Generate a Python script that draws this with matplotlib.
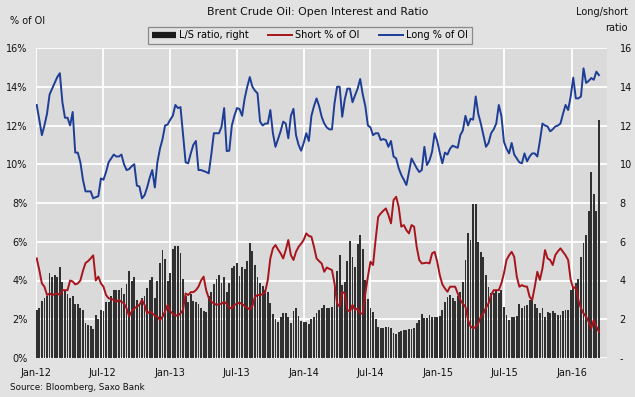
import numpy as np
import pandas as pd
import matplotlib
matplotlib.use("Agg")
import matplotlib.pyplot as plt
import matplotlib.dates as mdates
from matplotlib.lines import Line2D
from matplotlib.ticker import FixedLocator, FixedFormatter

# ---------------- data (weekly, starting 3 Jan 2012) ----------------
start_date = "2012-01-03"

ls_ratio = [
    2.5, 2.6, 2.95, 3.1, 3.2, 4.4, 4.2, 4.3, 4.2, 4.7,
    3.9, 3.5, 3.3, 3.1, 3.2, 2.8, 2.8, 2.6, 2.5, 1.8,
    1.7, 1.65, 1.5, 2.2, 2.0, 2.5, 2.45, 2.9, 2.9, 3.2,
    3.5, 3.5, 3.5, 3.6, 3.3, 3.8, 4.5, 4.0, 4.2, 3.0,
    2.8, 3.1, 3.2, 3.6, 4.05, 4.2, 3.1, 4.0, 4.9, 5.6,
    5.1, 4.0, 4.4, 5.65, 5.8, 5.8, 5.4, 4.1, 3.2, 2.9,
    3.3, 2.95, 2.9, 2.8, 2.6, 2.45, 2.4, 3.2, 3.4, 3.8,
    4.1, 4.3, 3.85, 4.2,
    3.4, 3.85, 4.67, 4.74, 4.88, 4.23, 4.7, 4.57, 5.02, 5.95,
    5.54, 4.8, 4.2, 3.85, 3.71, 3.5, 3.4, 2.82, 2.27, 2.0,
    1.88, 2.1, 2.34, 2.34, 2.1, 1.82, 2.44, 2.56, 2.16, 1.91,
    1.88, 1.88, 1.76, 2.0, 2.13, 2.34, 2.5, 2.56, 2.74, 2.6,
    2.56, 2.65, 3.68, 4.5, 5.3, 3.76, 3.94, 5.02, 6.05, 5.22,
    4.7, 5.9, 6.34, 5.65, 4.03, 3.02, 2.56, 2.4, 2.0, 1.62,
    1.53, 1.53, 1.58, 1.62, 1.53, 1.27, 1.24, 1.36, 1.41, 1.45,
    1.45, 1.48, 1.48, 1.53, 1.82, 1.96,
    2.27, 2.05, 2.05, 2.22, 2.13, 2.1, 2.13, 2.16, 2.48, 2.9,
    3.16, 3.25, 3.08, 2.96, 3.2, 3.42, 3.94, 5.06, 6.43, 6.09,
    7.94, 7.94, 6.0, 5.48, 5.2, 4.28, 3.68, 3.37, 3.33, 3.5,
    3.33, 3.5, 2.65, 2.22, 1.96, 2.13, 2.13, 2.16, 2.79, 2.6,
    2.67, 2.74, 2.99, 3.08, 2.79, 2.6, 2.3, 2.6, 2.1, 2.4,
    2.34, 2.44, 2.3, 2.2, 2.2, 2.44, 2.5, 2.5, 3.5, 3.68,
    3.85, 4.1, 5.2, 5.95, 6.34, 7.6, 9.6, 8.45, 7.6, 12.3,
]

short_pct = [
    5.14, 4.54, 3.85, 3.68, 3.25, 3.33, 3.25, 3.3, 3.33, 3.25,
    3.5, 3.5, 3.5, 4.0, 3.95, 3.8, 3.85, 4.0, 4.5, 4.9,
    5.0, 5.14, 5.3, 4.0, 4.2, 3.85, 3.68, 3.25, 3.08, 3.05,
    3.0, 2.9, 3.0, 2.9, 2.82, 2.56, 2.16, 2.4, 2.56, 2.65,
    2.74, 3.0, 2.74, 2.3, 2.4, 2.3, 2.2, 2.13, 1.96, 2.13,
    2.4, 2.74, 2.4, 2.3, 2.2, 2.2, 2.3, 2.48, 3.33, 3.25,
    3.4, 3.4, 3.5, 3.68, 4.0, 4.2, 3.5, 3.1, 2.9, 2.82,
    2.74, 2.78, 2.8, 2.9, 2.8, 2.6, 2.56, 2.74, 2.8, 2.85,
    2.79, 2.68, 2.6, 2.5, 2.68, 3.16, 3.25, 3.25, 3.3, 3.42,
    4.03, 5.14, 5.66, 5.83, 5.6, 5.4, 5.14, 5.57, 6.09, 5.31,
    5.06, 5.48, 5.74, 5.9, 6.1, 6.43, 6.3, 6.26, 5.74, 5.14,
    5.0, 4.88, 4.45, 4.67, 4.6, 4.54, 3.85, 2.82, 2.65, 3.42,
    3.33, 2.48, 2.4, 2.74, 2.48, 2.56, 2.3, 2.3, 3.33, 4.2,
    4.97, 4.8, 6.09, 7.28, 7.46, 7.6, 7.72, 7.38, 6.95, 8.15,
    8.32, 7.8, 6.78, 6.86, 6.6, 6.43, 6.86, 6.78, 5.74, 5.06,
    4.88, 4.9, 4.92, 4.88, 5.4, 5.48, 4.97, 4.28, 3.8, 3.59,
    3.42, 3.68, 3.68, 3.68, 3.33, 2.99, 2.8, 2.65, 1.96, 1.62,
    1.53, 1.6, 1.79, 2.13, 2.3, 2.6, 2.82, 3.25, 3.5, 3.5,
    3.5, 3.85, 4.37, 5.06, 5.3, 5.48, 5.22, 4.2, 3.68, 3.76,
    3.7, 3.68, 3.16, 2.99, 3.68, 4.45, 4.03, 4.62, 5.57, 5.14,
    5.06, 4.8, 5.31, 5.5, 5.66, 5.48, 5.3, 5.06, 4.03, 3.59,
    3.68, 2.99, 2.56, 2.3, 2.13, 1.87, 1.53, 1.96, 1.62, 1.36,
]

long_pct = [
    13.06, 12.3, 11.5, 12.0, 12.6, 13.6, 13.9, 14.2, 14.5, 14.7,
    13.2, 12.4, 12.4, 12.0, 12.7, 10.6, 10.6, 10.1, 9.2, 8.6,
    8.6, 8.6, 8.24, 8.3, 8.35, 9.27, 9.2, 9.6, 10.1, 10.3,
    10.5, 10.4, 10.4, 10.5, 10.0, 9.7, 9.75, 9.9, 10.0, 8.9,
    8.85, 8.24, 8.4, 8.8, 9.3, 9.7, 8.8, 10.1, 10.8, 11.3,
    12.0, 12.05, 12.3, 12.5, 13.06, 12.9, 12.95, 11.5, 10.1, 10.05,
    10.56, 11.0, 11.2, 9.7, 9.7, 9.65, 9.6, 9.53, 10.5, 11.6,
    11.6, 11.6, 11.94, 12.9, 10.68, 10.7, 12.0, 12.5, 12.9, 12.85,
    12.5, 13.4, 14.0, 14.5, 14.0, 13.8, 13.66, 12.2, 12.0, 12.1,
    12.1, 12.8, 11.6, 10.9, 11.3, 11.7, 12.2, 12.1, 11.34, 12.5,
    12.86, 11.5, 11.0, 10.7, 11.1, 11.6, 11.2, 12.5, 13.0, 13.4,
    13.0, 12.45, 12.1, 11.9, 11.8, 11.8, 13.15, 14.0, 14.0, 12.45,
    13.35, 13.9, 13.9, 13.2, 13.56, 13.9, 14.4, 13.6, 13.0, 12.0,
    11.9, 11.5, 11.6, 11.6, 11.25, 11.3, 11.25, 10.9, 11.2, 10.4,
    10.3, 9.8, 9.45, 9.2, 8.93, 9.6, 10.3, 10.05, 9.8, 9.6,
    9.7, 10.9, 9.96, 10.2, 10.65, 11.6, 11.2, 10.6, 10.05, 10.6,
    10.5, 10.8, 10.96, 10.9, 10.85, 11.5, 11.75, 12.5, 12.0, 12.35,
    12.3, 13.5, 12.6, 12.1, 11.5, 10.9, 11.1, 11.6, 11.8, 12.1,
    13.06, 12.5, 11.16, 10.8, 10.56, 11.1, 10.5, 10.3, 10.1, 10.05,
    10.56, 10.15, 10.4, 10.56, 10.56, 10.4, 11.2, 12.1, 12.0, 11.95,
    11.7, 11.8, 11.95, 12.0, 12.1, 12.6, 13.06, 12.8, 13.5, 14.47,
    13.4, 13.4, 13.5, 14.95, 14.2, 14.3, 14.45, 14.36, 14.78, 14.6,
]

y_ticks = [0, 2, 4, 6, 8, 10, 12, 14, 16]
left_labels = ["0%", "2%", "4%", "6%", "8%", "10%", "12%", "14%", "16%"]
right_labels = ["-", "2", "4", "6", "8", "10", "12", "14", "16"]

title = "Brent Crude Oil: Open Interest and Ratio"
series_names = ["L/S ratio, right", "Short % of OI", "Long % of OI"]

# ---------------- styling ----------------
FIG_BG = "#e2e2e2"
PLOT_BG = "#dadada"
BAR_C = "#303030"
RED = "#a8141c"
BLUE = "#1d3d96"
FONT = "DejaVu Sans"

dates = pd.date_range(start_date, periods=len(ls_ratio), freq="7D")

fig = plt.figure(figsize=(6.35, 3.97), dpi=100, facecolor=FIG_BG)
ax = fig.add_axes([36 / 635, 1 - 358 / 397, 571 / 635, 310 / 397])
ax2 = ax.twinx()

# bars on right axis (bottom layer), lines on left axis (top layer)
ax.set_zorder(2)
ax2.set_zorder(1)
ax.patch.set_visible(False)
ax2.patch.set_visible(True)
ax2.set_facecolor(PLOT_BG)

ax2.bar(dates, ls_ratio, width=5, color=BAR_C, linewidth=0, zorder=2)
ax.plot(dates, short_pct, color=RED, lw=1.4, zorder=3)
ax.plot(dates, long_pct, color=BLUE, lw=1.4, zorder=3)

for a in (ax, ax2):
    a.set_ylim(0, 16)
    for s in a.spines.values():
        s.set_visible(False)

ax.set_xlim(pd.Timestamp("2012-01-01"), pd.Timestamp("2016-04-06"))

ax.xaxis.set_major_locator(mdates.MonthLocator(bymonth=[1, 7]))
ax.xaxis.set_major_formatter(mdates.DateFormatter("%b-%y"))

ax.yaxis.set_major_locator(FixedLocator(y_ticks))
ax.yaxis.set_major_formatter(FixedFormatter(left_labels))
ax2.yaxis.set_major_locator(FixedLocator(y_ticks))
ax2.yaxis.set_major_formatter(FixedFormatter(right_labels))

# gridlines live on the bottom (bar) axes so bars cover them
ax2.xaxis.set_visible(True)
ax2.tick_params(axis="x", which="both", labelbottom=False, labeltop=False,
                bottom=False, top=False)
ax2.set_axisbelow(True)
ax2.grid(True, axis="both", color="white", lw=1.3)
ax.grid(False)

ax.tick_params(axis="x", length=0, pad=7, labelsize=7, labelcolor="#111111")
ax.tick_params(axis="y", length=0, pad=6, labelsize=7, labelcolor="#111111")
ax2.tick_params(axis="y", length=0, pad=9, labelsize=7, labelcolor="#111111")
for lab in ax.get_xticklabels() + ax.get_yticklabels() + ax2.get_yticklabels():
    lab.set_fontfamily(FONT)

# texts
fig.text(318 / 635, 1 - 12 / 397, title, ha="center", va="center",
         fontsize=7.8, family=FONT, color="#111111")
fig.text(10 / 635, 1 - 21 / 397, "% of OI", ha="left", va="center",
         fontsize=7, family=FONT, color="#111111")
fig.text(628 / 635, 1 - 12 / 397, "Long/short", ha="right", va="center",
         fontsize=7, family=FONT, color="#111111")
fig.text(628 / 635, 1 - 28 / 397, "ratio", ha="right", va="center",
         fontsize=7, family=FONT, color="#111111")
fig.text(10 / 635, 1 - 388 / 397, "Source: Bloomberg, Saxo Bank", ha="left",
         va="center", fontsize=6.3, family=FONT, color="#111111")

handles = [
    Line2D([0], [0], color="#1a1a1a", lw=4.5, solid_capstyle="butt"),
    Line2D([0], [0], color=RED, lw=1.4),
    Line2D([0], [0], color=BLUE, lw=1.4),
]
leg = fig.legend(handles, series_names, loc="center",
                 bbox_to_anchor=(310 / 635, 1 - 35.5 / 397), ncol=3,
                 frameon=True, fancybox=False, edgecolor="#8a8a8a",
                 facecolor=FIG_BG, framealpha=1,
                 handlelength=2.5, handletextpad=0.3, columnspacing=2.0,
                 borderpad=0.4, borderaxespad=0,
                 prop={"family": FONT, "size": 7})
leg.get_frame().set_linewidth(0.9)

fig.savefig("out.png", dpi=100, facecolor=FIG_BG)
